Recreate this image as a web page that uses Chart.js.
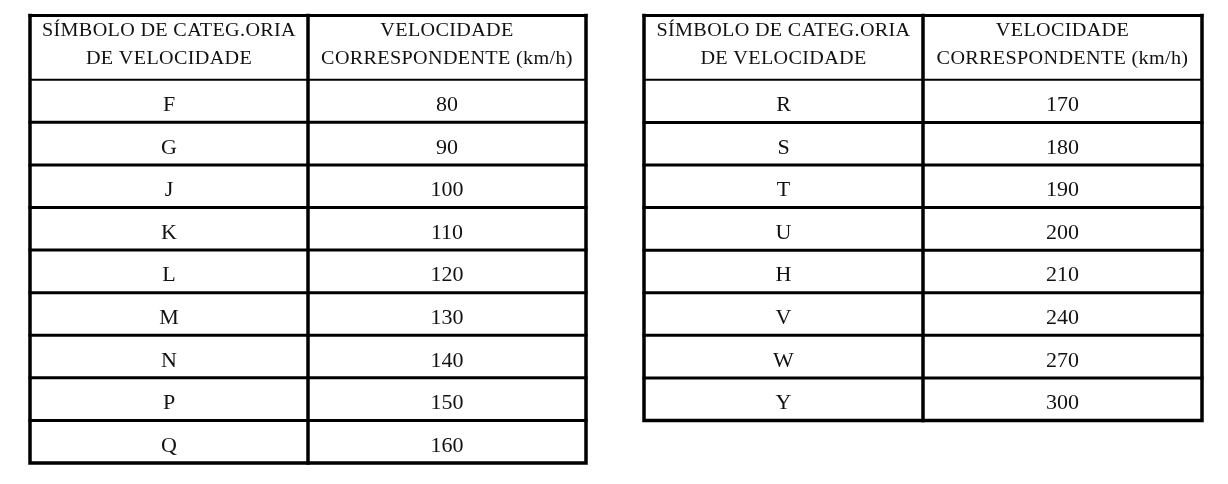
<!DOCTYPE html>
<html>
<head>
<meta charset="utf-8">
<script src="https://cdn.jsdelivr.net/npm/chart.js@4/dist/chart.umd.min.js"></script>
<style>
  html, body { margin: 0; padding: 0; background: #fff; }
  body { width: 1228px; height: 484px; position: relative; overflow: hidden; }
  .box { position: absolute; top: 0; height: 484px; width: 614px; }
  #boxL { left: 0; }
  #boxR { left: 614px; }
</style>
</head>
<body>
<div class="box" id="boxL"><canvas id="tblL"></canvas></div>
<div class="box" id="boxR"><canvas id="tblR"></canvas></div>
<script>
// ---- data ----
const headerSymbol = ['SÍMBOLO DE CATEG.ORIA', 'DE VELOCIDADE'];
const headerSpeed = ['VELOCIDADE', 'CORRESPONDENTE (km/h)'];
const symbolsLeft = ['F', 'G', 'J', 'K', 'L', 'M', 'N', 'P', 'Q'];
const speedsLeft = [80, 90, 100, 110, 120, 130, 140, 150, 160];
const symbolsRight = ['R', 'S', 'T', 'U', 'H', 'V', 'W', 'Y'];
const speedsRight = [170, 180, 190, 200, 210, 240, 270, 300];

// header height expressed in row units
const HEADER_UNITS = 1.51;

function wideText(ctx, text, cx, y, sx) {
  ctx.save();
  ctx.translate(cx, y);
  ctx.scale(sx, 1);
  ctx.fillText(text, 0, 0);
  ctx.restore();
}

const tablePlugin = {
  id: 'speedTable',
  afterDraw(chart, args, opts) {
    const ctx = chart.ctx;
    const xs = chart.scales.x, ys = chart.scales.y;
    const n = opts.symbols.length;
    const x0 = xs.getPixelForValue(0), x1 = xs.getPixelForValue(1), x2 = xs.getPixelForValue(2);
    const yTop = ys.getPixelForValue(-HEADER_UNITS);
    const yHead = ys.getPixelForValue(0);
    const yBot = ys.getPixelForValue(n);
    ctx.save();
    ctx.strokeStyle = '#000';
    ctx.lineCap = 'square';
    // header bottom line
    ctx.lineWidth = 2;
    ctx.beginPath(); ctx.moveTo(x0, yHead); ctx.lineTo(x2, yHead); ctx.stroke();
    // row separators
    ctx.lineWidth = 3;
    for (let i = 1; i < n; i++) {
      const y = ys.getPixelForValue(i);
      ctx.beginPath(); ctx.moveTo(x0, y); ctx.lineTo(x2, y); ctx.stroke();
    }
    // column divider
    ctx.lineWidth = 3.5;
    ctx.beginPath(); ctx.moveTo(x1, yTop); ctx.lineTo(x1, yBot); ctx.stroke();
    // outer frame
    ctx.lineWidth = 3;
    ctx.beginPath(); ctx.moveTo(x0, yTop); ctx.lineTo(x2, yTop); ctx.stroke();
    ctx.lineWidth = 3.5;
    ctx.beginPath(); ctx.moveTo(x0, yTop); ctx.lineTo(x0, yBot); ctx.lineTo(x2, yBot); ctx.lineTo(x2, yTop); ctx.stroke();

    // header text
    ctx.fillStyle = '#111';
    ctx.textAlign = 'center';
    ctx.textBaseline = 'alphabetic';
    ctx.font = '18px "Liberation Serif", "Times New Roman", serif';
    if ('letterSpacing' in ctx) ctx.letterSpacing = '0.3px';
    const cA = xs.getPixelForValue(0.5), cB = xs.getPixelForValue(1.5);
    const hb1 = yTop + 20, hb2 = yTop + 48;
    const sx = 1.12;
    wideText(ctx, headerSymbol[0], cA, hb1, sx);
    wideText(ctx, headerSymbol[1], cA, hb2, sx);
    wideText(ctx, headerSpeed[0], cB, hb1, sx);
    wideText(ctx, headerSpeed[1], cB, hb2, sx);
    if ('letterSpacing' in ctx) ctx.letterSpacing = '0px';

    // body text
    ctx.font = '22px "Liberation Serif", "Times New Roman", serif';
    for (let i = 0; i < n; i++) {
      const yc = ys.getPixelForValue(i + 0.5);
      ctx.fillText(String(opts.symbols[i]), cA, yc + 10);
      ctx.fillText(String(opts.speeds[i]), cB, yc + 10);
    }
    ctx.restore();
  }
};

function makeTable(canvasId, symbols, speeds, padding) {
  return new Chart(document.getElementById(canvasId), {
    type: 'scatter',
    data: {
      datasets: [{
        data: speeds.map((v, i) => ({ x: 1.5, y: i + 0.5, v })),
        pointRadius: 0,
        pointHoverRadius: 0
      }]
    },
    options: {
      responsive: true,
      maintainAspectRatio: false,
      animation: false,
      events: [],
      layout: { padding },
      scales: {
        x: { type: 'linear', min: 0, max: 2, display: false },
        y: { type: 'linear', min: -HEADER_UNITS, max: symbols.length, reverse: true, display: false }
      },
      plugins: {
        legend: { display: false },
        tooltip: { enabled: false },
        speedTable: { symbols, speeds }
      }
    },
    plugins: [tablePlugin]
  });
}

makeTable('tblL', symbolsLeft, speedsLeft, { left: 30, right: 28, top: 15.5, bottom: 21 });
makeTable('tblR', symbolsRight, speedsRight, { left: 30, right: 26, top: 15.5, bottom: 63.5 });
</script>
</body>
</html>
